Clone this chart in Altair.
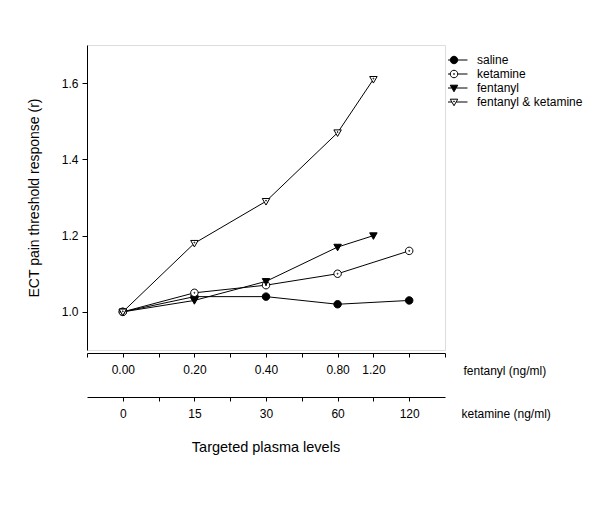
import altair as alt
import pandas as pd

# ---- data ----
series_names = ["saline", "ketamine", "fentanyl", "fentanyl & ketamine"]
ket_levels = [0, 1, 2, 3, 4]          # index of targeted level (ketamine scale)
fent_levels = [0, 1, 2, 3, 3.5]       # index of targeted level (fentanyl scale)
saline = [1.00, 1.04, 1.04, 1.02, 1.03]
ketamine = [1.00, 1.05, 1.07, 1.10, 1.16]
fentanyl = [1.00, 1.03, 1.08, 1.17, 1.20]
fent_ket = [1.00, 1.18, 1.29, 1.47, 1.61]

fent_tick_pos = [0, 1, 2, 3, 3.5]
fent_tick_labels = ["0.00", "0.20", "0.40", "0.80", "1.20"]
ket_tick_pos = [0, 1, 2, 3, 4]
ket_tick_labels = ["0", "15", "30", "60", "120"]
y_ticks = [1.0, 1.2, 1.4, 1.6]

rows = []
for name, xs, ys in [("saline", ket_levels, saline),
                     ("ketamine", ket_levels, ketamine),
                     ("fentanyl", fent_levels, fentanyl),
                     ("fentanyl & ketamine", fent_levels, fent_ket)]:
    for xv, yv in zip(xs, ys):
        rows.append({"series": name, "x": xv, "y": yv})
df = pd.DataFrame(rows)

FONT = "Liberation Sans"

def label_expr(pos, labels):
    expr = "''"
    for p, l in reversed(list(zip(pos, labels))):
        expr = f"datum.value == {p} ? '{l}' : ({expr})"
    return expr

circle = "M0,-1A1,1 0 1,1 0,1A1,1 0 1,1 0,-1Z"
dot_c = "M0,-0.13A0.13,0.13 0 1,1 0,0.13A0.13,0.13 0 1,1 0,-0.13Z"
tri = "M-1,-0.75L1,-0.75L0,1Z"
dot_t = "M0,-0.3A0.13,0.13 0 1,1 0,-0.04A0.13,0.13 0 1,1 0,-0.3Z"
shape_paths = [circle, circle + dot_c, tri, tri + dot_t]
stub_c = "M-3.6,0H-1M1,0H3.6"
stub_t = "M-3.6,0H-0.58M0.58,0H3.6"
legend_paths = [stub_c + circle, stub_c + circle + dot_c, stub_t + tri, stub_t + tri + dot_t]
fills = ["black", "white", "black", "white"]
strokes = ["black", "black", "black", "black"]

xdom = alt.Scale(domain=[-0.5, 4.5], nice=False, zero=False)
yenc = alt.Y("y:Q", scale=alt.Scale(domain=[0.9, 1.7], nice=False, zero=False),
             axis=alt.Axis(values=y_ticks, format=".1f", grid=False, tickSize=5,
                           labelPadding=4, labelFontSize=12, labelFont=FONT,
                           title="ECT pain threshold response (r)", titleFont=FONT,
                           titleFontSize=14, titleFontWeight="normal", titlePadding=20,
                           domainColor="black", tickColor="black", labelColor="black",
                           titleColor="black"))

fent_axis = alt.Axis(orient="bottom", offset=3, values=[-0.5 + 0.5 * i for i in range(11)],
                     labelExpr=label_expr(fent_tick_pos, fent_tick_labels),
                     grid=False, tickSize=4, labelPadding=7, labelFontSize=12, labelFont=FONT,
                     labelColor="black", domainColor="black", tickColor="black",
                     title="fentanyl (ng/ml)", titleFont=FONT, titleFontSize=12,
                     titleFontWeight="normal", titleX=376, titleY=17, titleAlign="left",
                     titleBaseline="middle", titleColor="black", labelFlush=False)
ket_axis = alt.Axis(orient="bottom", offset=47, values=[0.5 * i for i in range(9)],
                    labelExpr=label_expr(ket_tick_pos, ket_tick_labels),
                    grid=False, tickSize=4, labelPadding=7, labelFontSize=12, labelFont=FONT,
                    labelColor="black", domainColor="black", tickColor="black",
                    title="ketamine (ng/ml)", titleFont=FONT, titleFontSize=12,
                    titleFontWeight="normal", titleX=374, titleY=16, titleAlign="left",
                    titleBaseline="middle", titleColor="black", labelFlush=False)

lines = alt.Chart(df).mark_line(color="black", strokeWidth=1).encode(
    x=alt.X("x:Q", scale=xdom, axis=fent_axis),
    y=yenc,
    detail="series:N",
)

points = alt.Chart(df).mark_point(filled=True, stroke="black", strokeWidth=1,
                                  size=56, opacity=1, fillOpacity=1).encode(
    x=alt.X("x:Q", scale=xdom, axis=ket_axis),
    y=yenc,
    shape=alt.Shape("series:N", scale=alt.Scale(domain=series_names, range=shape_paths), legend=None),
    fill=alt.Fill("series:N", scale=alt.Scale(domain=series_names, range=fills), legend=None),
)

leg = alt.Legend(title=None, orient="none", legendX=361, legendY=8, padding=0,
                 labelFont=FONT, labelFontSize=12, labelColor="black", labelOffset=17,
                 symbolSize=56, symbolStrokeWidth=1,
                 clipHeight=14, rowPadding=0, symbolOpacity=1)
legend_layer = alt.Chart(df).transform_filter("false").mark_point(
    filled=True, strokeWidth=1, size=56, opacity=1).encode(
    shape=alt.Shape("series:N", scale=alt.Scale(domain=series_names, range=legend_paths),
                    legend=leg, title=None),
    fill=alt.Fill("series:N", scale=alt.Scale(domain=series_names, range=fills),
                  legend=leg, title=None),
    stroke=alt.Stroke("series:N", scale=alt.Scale(domain=series_names, range=strokes),
                      legend=leg, title=None),
)

chart = alt.layer(lines, points, legend_layer).resolve_scale(
    x="independent", shape="independent", fill="independent", stroke="independent"
).properties(
    width=358, height=305,
    autosize=alt.AutoSizeParams(type="none"),
    padding={"left": 79, "top": 37, "right": 147, "bottom": 151},
    title=alt.TitleParams("Targeted plasma levels", orient="bottom", anchor="middle",
                          font=FONT, fontSize=14.5, fontWeight="normal", color="black",
                          offset=22),
).configure_view(strokeWidth=0).configure(background="white")

chart.save("out.html", embed_options={"renderer": "svg", "actions": False})
